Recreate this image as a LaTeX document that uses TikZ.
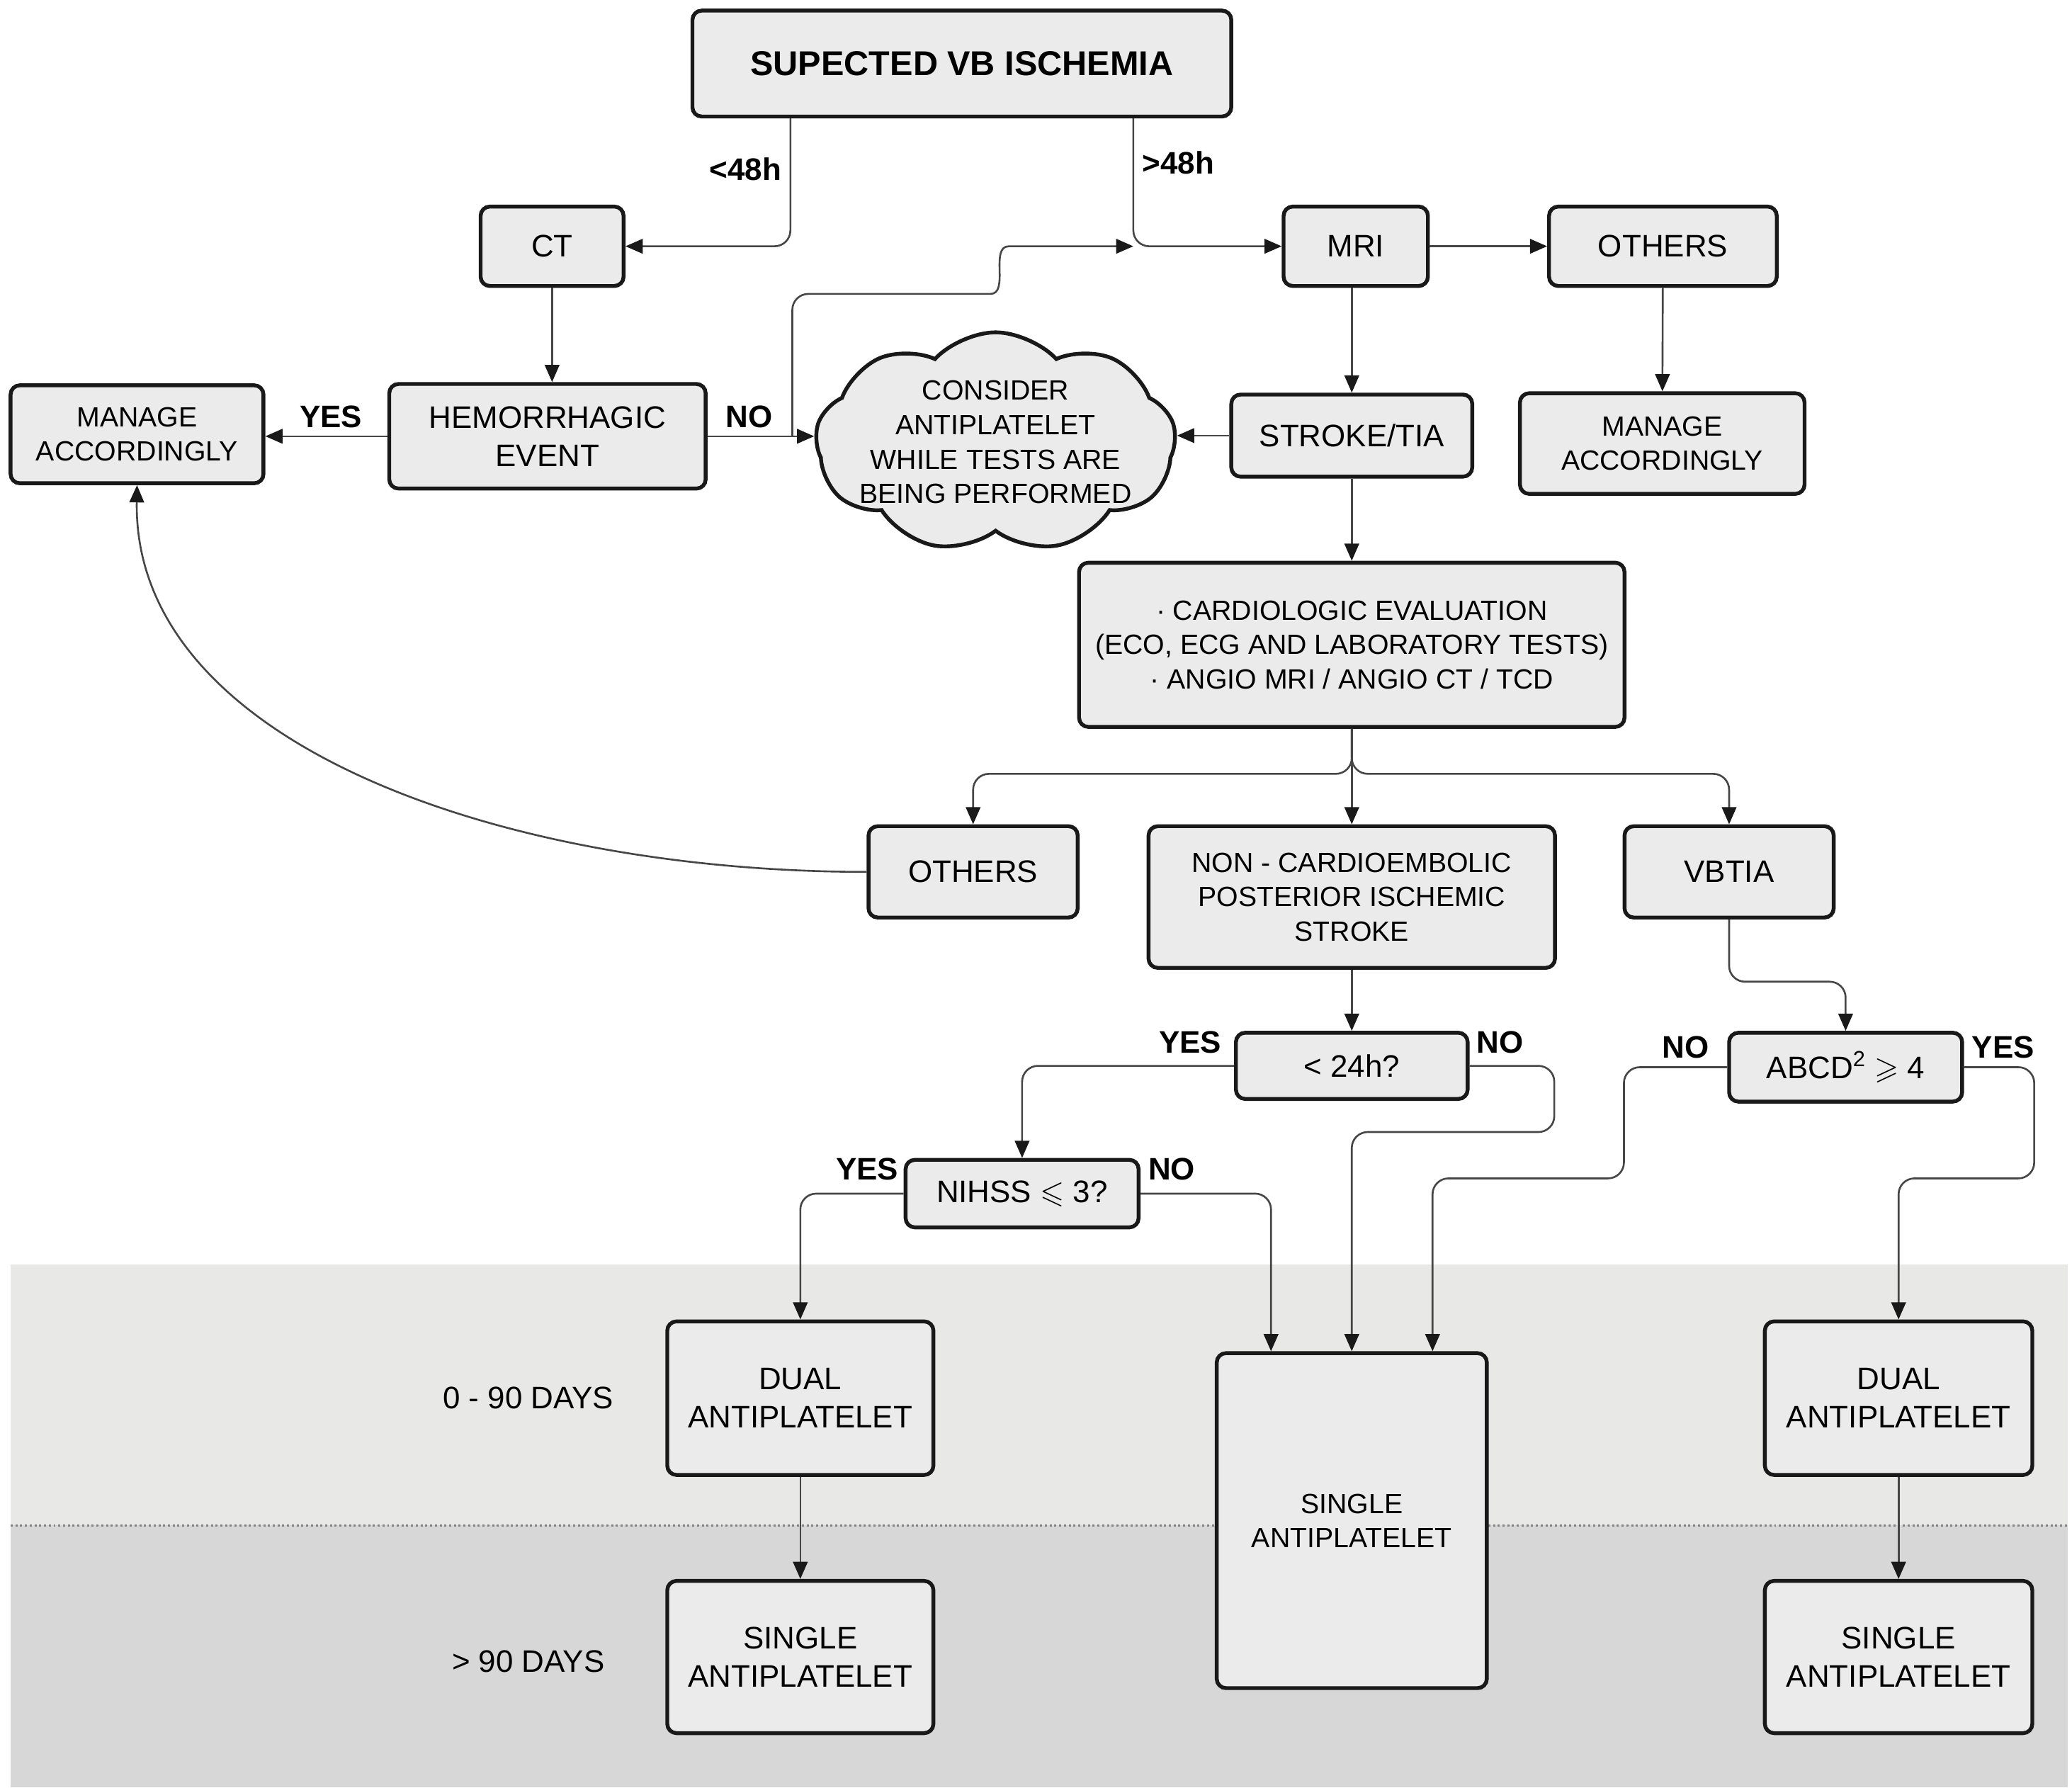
\documentclass[tikz,border=0pt]{standalone}
\usepackage{amssymb}
\usepackage{fontspec}
\setmainfont{Liberation Sans}
\usepackage{tikz}
\definecolor{BoxGray}{RGB}{235,235,235}
\definecolor{BandLight}{RGB}{232,232,231}
\definecolor{BandDark}{RGB}{215,215,215}
\definecolor{LineGray}{RGB}{70,70,70}
\usetikzlibrary{shapes.symbols,arrows.meta}
\newcommand{\txtT}[0]{\fontsize{26}{30}\selectfont}
\newcommand{\txtL}[0]{\fontsize{23.5}{29}\selectfont}
\newcommand{\txtS}[0]{\fontsize{21}{26}\selectfont}

\begin{document}
\begin{tikzpicture}[x=1pt,y=-1pt,>={Triangle[length=13pt,width=11pt,color=black!90]},
        box/.style={draw=black!90,fill=BoxGray,line width=2.9pt,rounded corners=7pt,align=center,inner sep=0pt,font=\txtL},
        lbl/.style={font=\txtL\bfseries,inner sep=0pt},
        conn/.style={->,draw=LineGray,line width=1.4pt,rounded corners=12pt}]
            \useasboundingbox (0,0) rectangle (1565,1350);

            % Draw the two time bands
            \fill[BandLight] (8,955) rectangle (1562,1152);
            \fill[BandDark] (8,1152) rectangle (1562,1350);
            \draw[gray,dotted,line width=1.6pt] (8,1152) -- (1562,1152);

            % Draw the top box and the imaging row
            \node[box,font=\txtT\bfseries,minimum width=407pt,minimum height=80pt] (sus) at (726.5,48) {SUPECTED VB ISCHEMIA};
            \node[box,minimum width=108pt,minimum height=60pt] (ct) at (417,186) {CT};
            \node[box,minimum width=109pt,minimum height=60pt] (mri) at (1024,186) {MRI};
            \node[box,minimum width=172pt,minimum height=60pt] (oth1) at (1256,186) {OTHERS};

            % Draw the second row
            \node[box,minimum width=239pt,minimum height=79pt] (hem) at (413.5,329.5) {HEMORRHAGIC\\EVENT};
            \node[box,font=\txtS,minimum width=191pt,minimum height=74pt] (manL) at (103.5,328) {MANAGE\\ACCORDINGLY};
            \node[cloud,cloud puffs=9,cloud puff arc=95,cloud ignores aspect,draw=black!90,fill=BoxGray,line width=2.9pt,minimum width=272pt,minimum height=166pt,inner sep=0pt] (cloud) at (752,334) {};
            \node[font=\txtS,align=center,inner sep=0pt] (cloudtxt) at (cloud.center) {CONSIDER\\ANTIPLATELET\\WHILE TESTS ARE\\BEING PERFORMED};
            \node[box,minimum width=182pt,minimum height=62pt] (stroke) at (1021,329) {STROKE/TIA};
            \node[box,font=\txtS,minimum width=215pt,minimum height=76pt] (manR) at (1255.5,335) {MANAGE\\ACCORDINGLY};

            % Draw the evaluation box and its outcomes
            \node[box,font=\txtS,minimum width=412pt,minimum height=124pt] (eval) at (1021,487) {· CARDIOLOGIC EVALUATION\\(ECO, ECG AND LABORATORY TESTS)\\· ANGIO MRI / ANGIO CT / TCD};
            \node[box,minimum width=158pt,minimum height=69pt] (oth2) at (735,658.5) {OTHERS};
            \node[box,font=\txtS,minimum width=307pt,minimum height=107pt] (ncs) at (1021,677.5) {NON - CARDIOEMBOLIC\\POSTERIOR ISCHEMIC\\STROKE};
            \node[box,minimum width=158pt,minimum height=69pt] (vbtia) at (1306,658.5) {VBTIA};

            % Draw the questions
            \node[box,minimum width=175pt,minimum height=50pt] (q24) at (1021,805) {< 24h?};
            \node[box,minimum width=176pt,minimum height=51pt] (qnih) at (772,901.5) {NIHSS $\leqslant$ 3?};
            \node[box,minimum width=176pt,minimum height=52pt] (qabcd) at (1394,806) {ABCD\textsuperscript{2} $\geqslant$ 4};

            % Draw the treatments
            \node[box,minimum width=201pt,minimum height=116pt] (dual1) at (604.5,1056) {DUAL\\ANTIPLATELET};
            \node[box,minimum width=201pt,minimum height=115pt] (sing1) at (604.5,1251.5) {SINGLE\\ANTIPLATELET};
            \node[box,font=\txtS,minimum width=204pt,minimum height=253pt] (sing2) at (1021,1148.5) {SINGLE\\ANTIPLATELET};
            \node[box,minimum width=202pt,minimum height=116pt] (dual3) at (1434,1056) {DUAL\\ANTIPLATELET};
            \node[box,minimum width=202pt,minimum height=115pt] (sing3) at (1434,1251.5) {SINGLE\\ANTIPLATELET};

            % period labels
            \node[font=\txtL] (p1) at (399,1056) {0 - 90 DAYS};
            \node[font=\txtL] (p2) at (399,1255) {> 90 DAYS};

            % branch labels
            \node[lbl] (lt48) at (563,128) {<48h};
            \node[lbl] (gt48) at (890,123) {>48h};
            \node[lbl] (yes1) at (250,315) {YES};
            \node[lbl] (no1) at (566,315) {NO};
            \node[lbl] (yes2) at (899,787) {YES};
            \node[lbl] (no2) at (1133,787) {NO};
            \node[lbl] (yes3) at (655,883) {YES};
            \node[lbl] (no3) at (885,883) {NO};
            \node[lbl] (no4) at (1273,791) {NO};
            \node[lbl] (yes4) at (1513,791) {YES};

            % Draw the arrows from the top box
            \coordinate (join) at ([xshift=129.5pt]sus.south |- mri.west);
            \draw[conn] ([xshift=-129.5pt]sus.south) |- (ct.east);
            \draw[conn] ([xshift=129.5pt]sus.south) |- (mri.west);
            \draw[conn] (mri) -- (oth1);
            \draw[conn] (ct.south) -- (ct.south |- hem.north);
            \draw[conn] (hem.west) -- (hem.west -| manL.east);
            \draw[conn] (hem.east) -- (hem.east -| cloud.west);
            \draw[conn] ([xshift=64pt]hem.east) |- (736,222) to[out=0,in=180,looseness=1.3] (774,186) -- (join);
            \draw[conn] (stroke.west) -- (stroke.west -| cloud.east);
            \draw[conn] (mri.south -| stroke.north) -- (stroke.north);
            \draw[conn] (oth1) -- (manR);
            \draw[conn] (stroke) -- (eval);

            % Draw the branches below the evaluation
            \foreach \d in {oth2,ncs,vbtia}{
                \draw[conn] (eval.south) -- ++(0,34) -| (\d.north);
            }
            \draw[->,draw=LineGray,line width=1.4pt] (oth2.west) .. controls +(-276,0) and +(-3,195) .. (manL.south);

            % Draw the question arrows
            \draw[conn] (ncs) -- (q24);
            \draw[conn] (q24.west) -| (qnih.north);
            \draw[conn] (q24.east) -- ++(64,0) -- ++(0,50) -| (sing2.north);
            \draw[conn] (qnih.west) -| (dual1.north);
            \draw[conn] (qnih.east) -| ([xshift=-61pt]sing2.north);
            \draw[conn] (vbtia.south) -- ++(0,47) -| (qabcd.north);
            \draw[conn] (qabcd.west) -- ++(-78,0) -- ++(0,84) -| ([xshift=61pt]sing2.north);
            \draw[conn] (qabcd.east) -- ++(53,0) -- ++(0,84) -| (dual3.north);

            % dual to single
            \foreach \a/\b in {dual1/sing1,dual3/sing3}{
                \draw[conn] (\a) -- (\b);
            }
\end{tikzpicture}
\end{document}
